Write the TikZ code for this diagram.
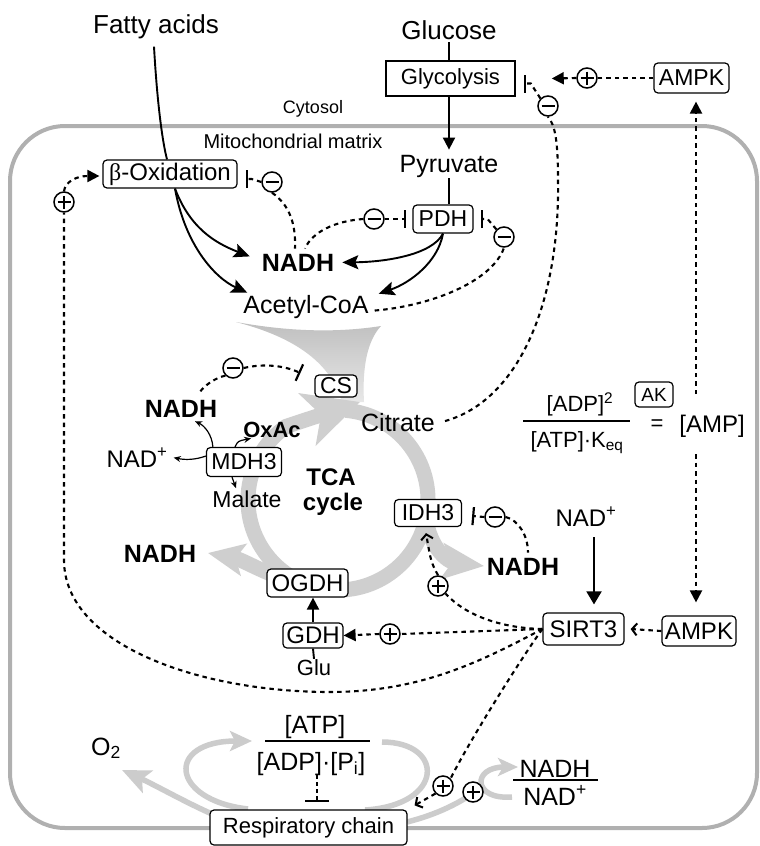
\documentclass[tikz,border=0pt]{standalone}
\usepackage{fontspec}
\setmainfont{Liberation Sans}
\newfontfamily\grserif{Liberation Serif}
\usetikzlibrary{arrows.meta,calc}
\begin{document}
\begin{tikzpicture}[x=1pt,y=-1pt,
  fs/.style={font=\fontsize{#1}{#1}\selectfont, inner sep=0pt},
  fb/.style={font=\fontsize{#1}{#1}\selectfont\bfseries, inner sep=0pt},
  enz/.style={draw, line width=1.2pt, rounded corners=4pt, fill=white, inner sep=0pt},
  pm/.style={circle, draw, line width=1.5pt, minimum size=20pt, inner sep=0pt, fill=white},
  pplus/.style={pm, path picture={\draw[line width=1.5pt] ($(path picture bounding box.center)+(-6.5,0)$) -- ($(path picture bounding box.center)+(6.5,0)$) ($(path picture bounding box.center)+(0,-6.5)$) -- ($(path picture bounding box.center)+(0,6.5)$);}},
  mminus/.style={pm, path picture={\draw[line width=1.5pt] ($(path picture bounding box.center)+(-6.5,0)$) -- ($(path picture bounding box.center)+(6.5,0)$);}},
  blk/.style={line width=1.9pt},
  dsh/.style={line width=2.1pt, dash pattern=on 4.5pt off 4pt},
  arT/.style={-{Triangle[length=12pt,width=12pt]}},
  arTT/.style={-{Triangle[length=13pt,width=15pt]}},
  arS/.style={-{Stealth[length=16pt,width=14pt,inset=3pt]}},
  arB/.style={-{Straight Barb[length=5pt,width=12pt,line width=2pt]}},
  inh/.style={-{Bar[width=18pt,line width=2.2pt]}},
  smallar/.style={line width=1.2pt, -{Stealth[length=7pt,width=6pt]}},
  tcaring/.style={line width=15pt, gray!38},
  gl/.style={line width=5.5pt, gray!40},
]
\useasboundingbox (0,0) rectangle (760,846);
\fill[white] (0,0) rectangle (760,846);

% mitochondrion outline
\draw[gray!62, line width=4pt, rounded corners=55pt] (10,126) rectangle (757,828);

% TCA cycle (gray)
\coordinate (C) at (338,500);
\shade[top color=gray!50, bottom color=gray!18] (236,322) .. controls (290,336) and (330,360) .. (342,402) -- (364,402) .. controls (362,365) and (368,340) .. (381,326) .. controls (330,334) and (280,330) .. cycle;
\draw[tcaring] ($(C)+(-85:90)$) arc[start angle=-85, end angle=100, radius=90];
\draw[tcaring, -{Stealth[length=55pt,width=54pt,inset=14pt]}] ($(C)+(100:90)$) arc[start angle=100, end angle=235, radius=90] -- (360,402);
\draw[tcaring, -{Stealth[length=42pt,width=36pt,inset=10pt]}] ($(C)+(12:90)$) .. controls (430,548) and (448,562) .. (484,566);
\draw[tcaring, -{Stealth[length=36pt,width=32pt,inset=8pt]}] ($(C)+(112:90)$) .. controls (270,578) and (245,560) .. (208,553);

% bottom gray loops
\draw[gl, -{Stealth[length=22pt,width=20pt,inset=5pt]}] (248,809) .. controls (170,800) and (165,741) .. (252,741);
\draw[gl] (382,742) .. controls (445,742) and (445,805) .. (365,810);
\draw[gl, -{Stealth[length=28pt,width=24pt,inset=6pt]}] (212,814) .. controls (185,802) and (155,785) .. (122,770);
\draw[gl] (407,822) .. controls (435,815) and (462,803) .. (484,785);
\draw[gl, -{Stealth[length=20pt,width=18pt,inset=5pt]}] (512,797) .. controls (472,800) and (472,767) .. (518,767);

% nodes
\node[fs=26, anchor=base] (fa) at (156,33) {Fatty acids};
\node[fs=26, anchor=base] (glc) at (449,39) {Glucose};
\node[draw, line width=1.5pt, fill=white, minimum width=129pt, minimum height=35pt, fs=22] (glyc) at (450.5,78.5) {Glycolysis\hspace{16pt}};
\node[enz, minimum width=75pt, minimum height=30pt, fs=23] (ampkA) at (691.5,78) {AMPK};
\node[mminus] (mA) at (548,106) {};
\node[pplus] (pA) at (587,78) {};
\node[fs=18, anchor=base] (cyt) at (313,113) {Cytosol};
\node[fs=20, anchor=base] (mito) at (293,148) {Mitochondrial matrix};
\node[fs=25, anchor=base] (pyr) at (449,172) {Pyruvate};
\node[enz, minimum width=134pt, minimum height=28pt, fs=24] (box) at (170,174) {{\grserif β}-Oxidation};
\node[mminus] (mB) at (272,182) {};
\node[enz, minimum width=60pt, minimum height=28pt, fs=23] (pdh) at (443,219) {PDH};
\node[mminus] (mC) at (374,219) {};
\node[mminus] (mD) at (504,237) {};
\node[fb=25, anchor=base] (nadhT) at (298,271) {NADH};
\node[fs=25, anchor=base] (acoa) at (306,313) {Acetyl-CoA};
\node[enz, minimum width=42pt, minimum height=22pt, fs=23] (cs) at (336,386) {CS};
\node[mminus] (mE) at (233,368) {};
\node[fs=25, anchor=base] (cit) at (398,431) {Citrate};
\node[fb=25, anchor=base] (nadhUL) at (181,417) {NADH};
\node[fb=22, anchor=base] (oxac) at (272,437) {OxAc};
\node[fs=24, anchor=base] (nadL) at (137,467) {NAD\textsuperscript{+}};
\node[enz, minimum width=75pt, minimum height=29pt, fs=23] (mdh) at (244,462) {MDH3};
\node[fs=23, anchor=base] (mal) at (247,507) {Malate};
\node[fb=24, anchor=base] (tca) at (331,485) {TCA};
\node[fb=24, anchor=base] (cyc) at (333,510) {cycle};
\node[enz, minimum width=67pt, minimum height=27pt, fs=23] (idh) at (428,513) {IDH3};
\node[mminus] (mF) at (495,517) {};
\node[fb=25, anchor=base] (nadhR) at (523,575) {NADH};
\node[fb=25, anchor=base] (nadhL) at (160,562) {NADH};
\node[enz, minimum width=81pt, minimum height=28pt, fs=24] (ogdh) at (307.5,583) {OGDH};
\node[enz, minimum width=60pt, minimum height=25pt, fs=24] (gdh) at (313,635.5) {GDH};
\node[fs=22, anchor=base] (glu) at (314,675) {Glu};
\node[fs=24, anchor=base] (nadR) at (586,526) {NAD\textsuperscript{+}};
\node[enz, minimum width=81pt, minimum height=32pt, fs=24] (sirt) at (583.5,629) {SIRT3};
\node[enz, minimum width=74pt, minimum height=30pt, fs=24] (ampkB) at (699,631) {AMPK};
\node[pplus] (pB) at (64,202) {};
\node[pplus] (pC) at (438,586) {};
\node[pplus] (pD) at (390,634) {};
\node[fs=22, anchor=base] (numA) at (580,411) {[ADP]\textsuperscript{2}};
\node[fs=22, anchor=base] (denA) at (577,447) {[ATP]·K\textsubscript{eq}};
\node[fs=22] (eq) at (657,425) {=};
\node[fs=24, anchor=base] (amp) at (712,432) {[AMP]};
\node[enz, minimum width=38pt, minimum height=25pt, fs=19] (ak) at (654,394.5) {AK};
\node[fs=25, anchor=base] (atp) at (315,733) {[ATP]};
\node[fs=25, anchor=base] (den) at (311,770) {[ADP]·[P\textsubscript{i}]};
\node[fs=25, anchor=base] (o2) at (106,755) {O\textsubscript{2}};
\node[fs=25, anchor=base] (nadhF) at (555,777) {NADH};
\node[fs=25, anchor=base] (nadF) at (555,805) {NAD\textsuperscript{+}};
\node[enz, minimum width=197pt, minimum height=35pt, fs=22] (resp) at (308.5,827.5) {Respiratory chain};
\node[pplus] (pE) at (443,786) {};
\node[pplus] (pF) at (473,792) {};

% fraction lines
\draw[line width=1.5pt] (523,421) -- (630,421);
\draw[line width=1.5pt] (265,741) -- (370,741);
\draw[line width=1.5pt] (513,780) -- (598,780);

% fatty acids / beta oxidation
\draw[blk] ($(fa.south)+(-2,8)$) .. controls (157,100) and (162,140) .. ($(box.north)+(-3,0)$);
\draw[blk,arS] ($(box.south)+(5,0)$) .. controls (190,228) and (215,243) .. ($(nadhT.west)+(-12,-6)$);
\draw[blk,arS] ($(box.south)+(5,0)$) .. controls (185,245) and (215,278) .. ($(acoa.north west)+(4,-2)$);

% glucose / pyruvate / PDH
\draw[blk] ($(glc.south)+(0,3)$) -- ($(glyc.north)+(-1.5,0)$);
\draw[blk,arT] ($(glyc.south)+(-1.5,0)$) -- ($(pyr.north)+(0,-5)$);
\draw[blk] ($(pyr.south)+(0,1)$) -- ($(pdh.north)+(6,0)$);
\draw[blk,arS] (pdh.south) .. controls (432,255) and (385,262) .. ($(nadhT.east)+(8,0)$);
\draw[blk,arS] (pdh.south) .. controls (438,262) and (410,283) .. ($(acoa.north east)+(10,-1)$);

% inhibitions
\draw[dsh,inh] (mB.west) -- ($(box.east)+(14,5)$) -- ($(box.east)+(8,5)$);
\draw[dsh] (mB.south) .. controls (290,205) and (296,225) .. ($(nadhT.north)+(-3,-5)$);
\draw[dsh,inh] (mC.east) -- ($(pdh.west)+(-6,0)$);
\draw[dsh] (mC.west) .. controls (335,221) and (312,232) .. ($(nadhT.north)+(7,-5)$);
\draw[dsh,inh] (mD.north west) -- ($(pdh.east)+(14,0)$) -- ($(pdh.east)+(7,0)$);
\draw[dsh] ($(acoa.east)+(6,4)$) .. controls (430,306) and (492,282) .. (mD.south);
\draw[dsh,inh] (mA.north west) -- ($(glyc.east)+(15,5)$) -- ($(glyc.east)+(8,5)$);
\draw[dsh,inh] (mE.east) .. controls (265,363) and (285,366) .. ($(cs.west)+(-14,-13)$);
\draw[dsh] (mE.south west) .. controls (215,378) and (205,385) .. ($(nadhUL.north east)+(-18,-7)$);
\draw[dsh,inh] (mF.west) -- ($(idh.east)+(10,3)$);
\draw[dsh] (mF.east) .. controls (518,520) and (528,535) .. ($(nadhR.north)+(5,-5)$);

% citrate to glycolysis inhibition
\draw[dsh] ($(cit.east)+(10,-1)$) .. controls (520,400) and (560,300) .. (558,180) .. controls (558,140) and (555,125) .. (mA.south);

% AMPK (top)
\draw[dsh] (ampkA.west) -- (pA.east);
\draw[dsh,arT] (pA.west) -- ($(glyc.east)+(36,0)$);

% AMP to AMPK
\coordinate (ampT) at (696,394);
\coordinate (ampB) at (696,454);
\draw[dsh,arT] (ampT) -- ($(ampkA.south)+(4.5,8)$);
\draw[dsh,arT] (ampB) -- ($(ampkB.north)+(-3,-13)$);

% SIRT3
\draw[blk,arTT] ($(nadR.south)+(8,11)$) -- ($(sirt.north)+(10.5,-8)$);
\draw[dsh,arB] (ampkB.west) -- ($(sirt.east)+(6,0)$);
\draw[dsh] (sirt.west) -- (pD.east);
\draw[dsh,arT] (pD.west) -- (gdh.east);
\draw[dsh] (sirt.west) .. controls (500,628) and (465,615) .. (pC.south east);
\draw[dsh,arB] (pC.north) .. controls (431,562) .. ($(idh.south)+(-2,6)$);
\draw[dsh] (sirt.west) .. controls (480,662) and (420,692) .. (330,692) .. controls (200,692) and (64,645) .. (64,560) -- (pB.south);
\draw[dsh,arT] (pB.north) .. controls (65,182) and (76,176) .. ($(box.west)+(-3,2)$);
\draw[dsh] (sirt.west) .. controls (520,660) and (470,740) .. (pE.north east);
\draw[dsh,arB] (pE.south west) -- ($(resp.north east)+(7,-4)$);

% GDH / OGDH
\draw[blk,arT] (gdh.north) -- (gdh.north |- ogdh.south);
\draw[blk] (glu.north) -- (gdh.south);

% MDH3 reactions
\draw[smallar] ($(mdh.north west)+(7,0)$) .. controls (212,435) and (205,426) .. ($(nadhUL.south)+(14,4)$);
\draw[smallar] ($(mdh.west)+(0,-6)$) .. controls (195,460) and (185,460) .. ($(nadL.east)+(6,0)$);
\draw[smallar] ($(mdh.north)+(-9,0)$) .. controls (238,441) .. ($(oxac.south west)+(8,1)$);
\draw[smallar] ($(mdh.south)+(-12,0)$) -- ($(mal.north)+(-11,-2)$);

% respiratory chain inhibition
\draw[line width=2.4pt, dash pattern=on 4pt off 3pt, -{Bar[width=24pt,line width=2.4pt]}] ($(den.south)+(6,0)$) -- ($(resp.north)+(8.5,-7)$);
\end{tikzpicture}
\end{document}
